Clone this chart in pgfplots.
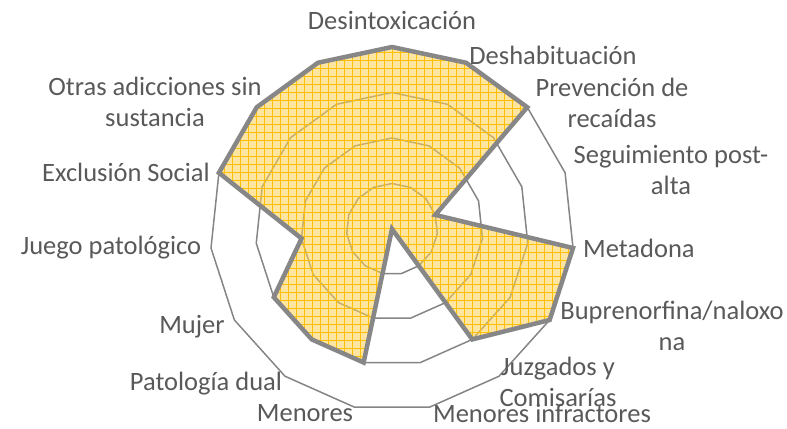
\documentclass[border=0pt]{standalone}
\usepackage{fontspec}
\setmainfont{Carlito}
\usepackage{pgfplots}
\pgfplotsset{compat=1.18}
\usepgfplotslibrary{polar}
\usetikzlibrary{patterns.meta}

\definecolor{txt}{HTML}{595959}
\definecolor{ring}{HTML}{858585}
\definecolor{edge}{HTML}{878787}
\definecolor{fillbase}{HTML}{FFD050}
\definecolor{fillgrid}{HTML}{FFC000}

\begin{document}
\begin{tikzpicture}[x=1bp,y=1bp]
\useasboundingbox (0,0) rectangle (787,428);
\begin{polaraxis}[
    at={(392bp,199bp)}, anchor=origin,
    scale only axis, width=364bp, height=364bp,
    xmin=0, xmax=360, ymin=0, ymax=4,
    hide axis, clip=false,
]
% rings of the grid, 15 spokes
\foreach \r in {1,2,3,4} {
  \addplot[ring, line width=1.5bp, no marks] coordinates {
    (90,\r) (66,\r) (42,\r) (18,\r) (354,\r) (330,\r) (306,\r) (282,\r)
    (258,\r) (234,\r) (210,\r) (186,\r) (162,\r) (138,\r) (114,\r) (90,\r)
  };
}
% series
\addplot[draw=none, fill=fillbase, fill opacity=0.55,
    postaction={pattern={Lines[distance=8bp, angle=0, line width=0.9bp]}, pattern color=fillgrid, fill opacity=0.6},
    postaction={pattern={Lines[distance=8bp, angle=90, line width=0.9bp]}, pattern color=fillgrid, fill opacity=0.6}]
  coordinates {
    (90,4) (66,4) (42,4) (18,1) (354,4) (330,4) (306,3) (282,0)
    (258,3) (234,3) (210,3) (186,2) (162,4) (138,4) (114,4) (90,4)
  };
\addplot[edge, line width=4.5bp, no marks, line join=miter] coordinates {
    (90,4) (66,4) (42,4) (18,1) (354,4) (330,4) (306,3) (282,0)
    (258,3) (234,3) (210,3) (186,2) (162,4) (138,4) (114,4) (90,4)
  } -- cycle;
\end{polaraxis}

\begin{scope}[every node/.style={text=txt, font=\fontsize{26.5bp}{31bp}\selectfont, align=center, inner sep=0pt}]
\node at (392,408) {Desintoxicación};
\node at (553,373) {Deshabituación};
\node at (612,325) {Prevención de\\recaídas};
\node at (671,258) {Seguimiento post-\\alta};
\node[anchor=west] at (583,180) {Metadona};
\node at (672,102) {Buprenorfina/naloxo\\na};
\node at (558,46) {Juzgados y\\Comisarías};
\node at (542,15) {Menores infractores};
\node at (305,15) {Menores};
\node at (206,44) {Patología dual};
\node at (192,101) {Mujer};
\node at (111,180) {Juego patológico};
\node at (126,256) {Exclusión Social};
\node at (155,326) {Otras adicciones sin\\sustancia};
\end{scope}
\end{tikzpicture}
\end{document}
